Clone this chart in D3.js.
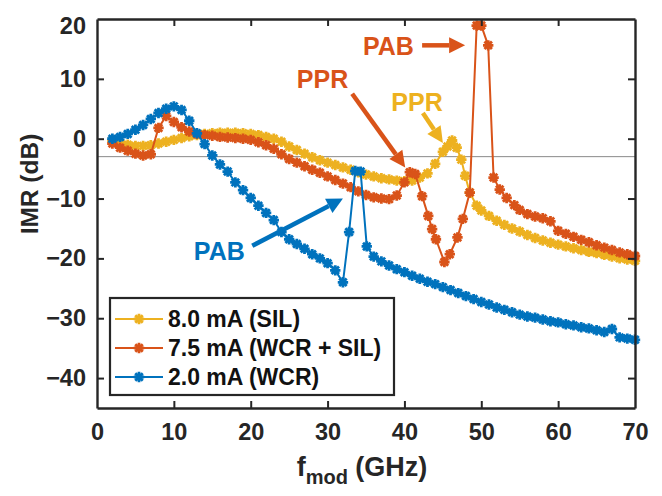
<!DOCTYPE html>
<html><head><meta charset="utf-8">
<script src="https://cdn.jsdelivr.net/npm/d3@7"></script>
<style>body{margin:0;background:#fff}svg{display:block}text{font-family:Arial,"Liberation Sans",sans-serif;font-weight:bold}</style>
</head><body><svg id="c" width="662" height="496"></svg>
<script>
// ---- data ----
const xTicks = [0,10,20,30,40,50,60,70];
const yTicks = [-40,-30,-20,-10,0,10,20];
const seriesNames = ["8.0 mA (SIL)","7.5 mA (WCR + SIL)","2.0 mA (WCR)"];
const seriesColors = ["#EDB120","#D95319","#0072BD"];

const fSIL = [2,3,4,5,6,7,8,9,10,11,12,13,14,15,16,17,18,19,20,21,22,23,24,25,26,27,28,29,30,31,32,33,34,35,36,37,38,39,40,41,42,43,44,45,45.6,46.2,46.8,47.4,47.9,48.5,49.4,50,51,52,53,54,55,56,57,58,59,60,61,62,63,64,65,66,67,68,69,70];
const vSIL = [-0.3,-0.7,-1.0,-1.2,-1.2,-1.1,-0.8,-0.5,-0.2,0.1,0.4,0.6,0.8,0.9,1.0,1.0,1.0,0.9,0.8,0.6,0.3,0.0,-0.5,-1.3,-1.9,-2.5,-3.1,-3.6,-4.0,-4.4,-4.8,-5.2,-5.6,-6.0,-6.3,-6.6,-6.8,-7.0,-7.1,-7.0,-6.5,-5.8,-4.2,-2.2,-1.3,-0.3,-1.5,-3.5,-6.2,-9.0,-11.2,-12.0,-12.9,-13.7,-14.4,-15.0,-15.5,-16.1,-16.6,-17.0,-17.4,-17.7,-18.0,-18.3,-18.6,-18.9,-19.1,-19.4,-19.7,-20.0,-20.2,-20.4];

const fWS = [2,3,4,5,6,7,8,9,10,11,12,13,14,15,16,17,18,19,20,21,22,23,24,25,26,27,28,29,30,31,32,33,34,35,36,37,38,39,40,40.7,41.4,42.3,43.1,43.6,44.1,45.2,45.9,46.9,47.6,48.5,49.4,50.0,50.9,51.6,52.4,53.3,54.3,55,56,57,58,59,60,61,62,63,64,65,66,67,68,69,70];
const vWS = [-0.8,-1.5,-2.0,-2.5,-2.8,-2.6,1.8,3.8,2.8,1.9,1.2,0.8,0.6,0.5,0.3,0.2,0.1,0.0,-0.2,-0.6,-1.1,-1.7,-2.6,-3.4,-4.0,-4.6,-5.2,-5.7,-6.3,-6.9,-7.5,-8.1,-8.8,-9.4,-9.8,-10.0,-10.1,-9.5,-7.3,-5.6,-5.9,-9.6,-12.9,-15.1,-16.8,-20.6,-19.3,-16.5,-13.4,-9.0,18.9,18.9,15.6,-6.5,-8.5,-9.9,-11.1,-11.9,-12.6,-13.0,-13.3,-13.8,-15.4,-15.9,-16.4,-16.9,-17.3,-17.8,-18.2,-18.6,-19.0,-19.3,-19.6];

const fWCR = [2,3,4,5,6,7,8,9,10,11,12,13,14,15,16,17,18,19,20,21,22,23,24,25,26,27,28,29,30,31,32,32.8,33.6,34.3,35.1,36,37,38,39,40,41,42,43,44,45,46,47,48,49,50,51,52,53,54,55,56,57,58,59,60,61,62,63,64,65,66,67,68,69,70];
const vWCR = [0,0.3,0.8,1.5,2.3,3.3,4.3,5.0,5.4,4.8,3.0,0.9,-0.9,-2.8,-4.3,-5.5,-7.3,-8.6,-9.9,-11.2,-12.4,-13.6,-15.6,-16.8,-17.6,-18.4,-19.3,-20.0,-20.8,-22.0,-24.0,-15.6,-5.4,-5.5,-18.0,-19.7,-20.5,-21.2,-21.8,-22.3,-22.9,-23.4,-23.9,-24.3,-24.8,-25.3,-25.8,-26.3,-26.8,-27.3,-27.7,-28.2,-28.6,-29.0,-29.4,-29.7,-29.9,-30.2,-30.5,-30.7,-31.0,-31.2,-31.5,-31.7,-32.0,-32.3,-31.8,-33.2,-33.4,-33.6];

// annotations in data units
const annLabels = ["PAB","PPR","PPR","PAB"];
const annColor = [1,1,0,2];
const annText = [[34.6,14.0],[26.0,8.4],[38.3,4.7],[12.6,-20.2]];
const annFrom = [[42.3,15.6],[33.2,7.5],[42.4,4.3],[20.2,-17.9]];
const annTo = [[47.9,15.6],[40.1,-4.8],[45.0,-0.7],[32.0,-10.0]];

// ---- chart ----
const W=662,H=496, m={l:97,t:19,r:27,b:88};
const svg=d3.select("#c");
const x=d3.scaleLinear().domain([0,70]).range([m.l,W-m.r]);
const y=d3.scaleLinear().domain([-45,20]).range([H-m.b,m.t]);
const axisCol="#262626";

svg.append("line").attr("x1",x(0)).attr("x2",x(70)).attr("y1",y(-3)).attr("y2",y(-3))
  .attr("stroke","#8a8a8a").attr("stroke-width",1);

const data=[[fSIL,vSIL],[fWS,vWS],[fWCR,vWCR]].map(([f,v])=>f.map((d,i)=>({f:d,v:v[i]})));
const line=d3.line().x(d=>x(d.f)).y(d=>y(d.v));
const R=5.2;
const starPath=`M${-R},0L${R},0M0,${-R}L0,${R}M${-R*0.72},${-R*0.72}L${R*0.72},${R*0.72}M${-R*0.72},${R*0.72}L${R*0.72},${-R*0.72}`;

data.forEach((s,i)=>{
  const g=svg.append("g");
  g.append("path").datum(s).attr("d",line).attr("fill","none").attr("stroke",seriesColors[i]).attr("stroke-width",2);
  g.selectAll("path.m").data(s).join("path").attr("class","m")
    .attr("transform",d=>`translate(${x(d.f)},${y(d.v)})`)
    .attr("d",starPath).attr("stroke",seriesColors[i]).attr("stroke-width",2.8).attr("fill","none");
});

const xa=d3.axisBottom(x).tickValues(xTicks).tickSizeInner(-7).tickSizeOuter(0).tickPadding(15);
const ya=d3.axisLeft(y).tickValues(yTicks).tickSizeInner(-7).tickSizeOuter(0).tickPadding(11);
const gx=svg.append("g").attr("transform",`translate(0,${y(-45)})`).call(xa);
const gy=svg.append("g").attr("transform",`translate(${x(0)},0)`).call(ya);
const gxt=svg.append("g").attr("transform",`translate(0,${y(20)})`).call(d3.axisTop(x).tickValues(xTicks).tickSizeInner(-7).tickSizeOuter(0).tickFormat(""));
const gyr=svg.append("g").attr("transform",`translate(${x(70)},0)`).call(d3.axisRight(y).tickValues(yTicks).tickSizeInner(-7).tickSizeOuter(0).tickFormat(""));
[gx,gy,gxt,gyr].forEach(g=>{
  g.select(".domain").attr("stroke",axisCol).attr("stroke-width",2.4);
  g.selectAll(".tick line").attr("stroke",axisCol).attr("stroke-width",2);
  g.selectAll(".tick text").attr("fill",axisCol).style("font-size","23.5px").style("font-family","Arial,'Liberation Sans',sans-serif").style("font-weight","bold");
});
gx.selectAll(".tick").filter(d=>d===0||d===70).select("line").remove();
gy.selectAll(".tick").filter(d=>d===20).select("line").remove();
gxt.selectAll(".tick").filter(d=>d===0||d===70).select("line").remove();
gyr.selectAll(".tick").filter(d=>d===20).select("line").remove();
gy.selectAll(".tick").filter(d=>d===20).select("text").attr("dy","0.6em");

svg.append("text").attr("transform",`translate(38,${184}) rotate(-90)`).attr("text-anchor","middle")
  .attr("fill",axisCol).style("font-size","24.5px").text("IMR (dB)");
const xl=svg.append("text").attr("x",362).attr("y",476).attr("text-anchor","middle").attr("fill",axisCol).style("font-size","27px");
xl.append("tspan").text("f");
xl.append("tspan").attr("dy",8).style("font-size","20px").text("mod");
xl.append("tspan").attr("dy",-8).text(" (GHz)");

annLabels.forEach((t,i)=>{
  const c=seriesColors[annColor[i]];
  svg.append("text").attr("x",x(annText[i][0])).attr("y",y(annText[i][1])).attr("fill",c).style("font-size","25px").text(t);
  const x1=x(annFrom[i][0]),y1=y(annFrom[i][1]),x2=x(annTo[i][0]),y2=y(annTo[i][1]);
  const a=Math.atan2(y2-y1,x2-x1), L=16, hw=8;
  const bx=x2-L*Math.cos(a), by=y2-L*Math.sin(a);
  svg.append("line").attr("x1",x1).attr("y1",y1).attr("x2",bx).attr("y2",by).attr("stroke",c).attr("stroke-width",4.5);
  svg.append("path").attr("d",`M${x2},${y2}L${bx-hw*Math.sin(a)},${by+hw*Math.cos(a)}L${bx+hw*Math.sin(a)},${by-hw*Math.cos(a)}Z`).attr("fill",c);
});

const lg=svg.append("g").attr("transform","translate(110,298)");
lg.append("rect").attr("width",284).attr("height",97).attr("fill","#fff").attr("stroke",axisCol).attr("stroke-width",2.2);
seriesNames.forEach((n,i)=>{
  const yy=21+i*29;
  lg.append("line").attr("x1",5).attr("x2",53).attr("y1",yy).attr("y2",yy).attr("stroke",seriesColors[i]).attr("stroke-width",2);
  lg.append("path").attr("transform",`translate(29,${yy})`).attr("d",starPath).attr("stroke",seriesColors[i]).attr("stroke-width",2.8).attr("fill","none");
  lg.append("text").attr("x",58).attr("y",yy).attr("dy","0.36em").attr("fill","#111").style("font-size","23px").text(n);
});
</script></body></html>
